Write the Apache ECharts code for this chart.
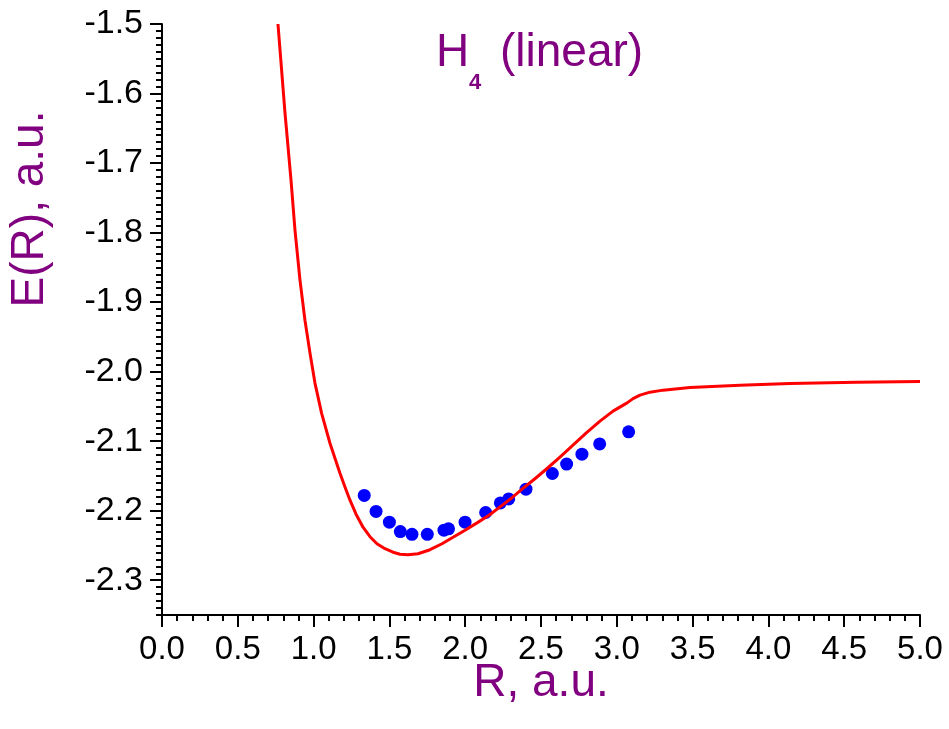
<!DOCTYPE html>
<html>
<head>
<meta charset="utf-8">
<script src="https://cdn.jsdelivr.net/npm/echarts@6/dist/echarts.min.js"></script>
<style>
  html, body { margin: 0; padding: 0; background: #fff; }
  #chart { width: 949px; height: 729px; }
</style>
</head>
<body>
<div id="chart"></div>
<script>
// Potential energy curve of linear H4: computed curve (red) and points (blue)
const curveR = [0.765, 0.811, 0.851, 0.877, 0.910, 0.943, 0.976, 1.009, 1.053, 1.108, 1.174, 1.207, 1.240, 1.280, 1.326, 1.372, 1.418, 1.471, 1.524, 1.570, 1.623, 1.689, 1.768, 1.847, 1.920, 1.999, 2.078, 2.157, 2.230, 2.309, 2.381, 2.460, 2.540, 2.625, 2.711, 2.797, 2.889, 2.975, 3.068, 3.107, 3.153, 3.219, 3.305, 3.483, 3.813, 4.142, 4.582, 5.0];
const curveE = [-1.500, -1.627, -1.7245, -1.796, -1.868, -1.926, -1.973, -2.0165, -2.060, -2.103, -2.146, -2.166, -2.1849, -2.205, -2.2237, -2.2374, -2.2475, -2.2547, -2.2597, -2.2626, -2.2633, -2.2619, -2.2561, -2.2475, -2.2381, -2.2281, -2.2175, -2.2065, -2.1945, -2.1813, -2.168, -2.154, -2.1393, -2.123, -2.1058, -2.0885, -2.0712, -2.0568, -2.0449, -2.0388, -2.0338, -2.0295, -2.0266, -2.0228, -2.0194, -2.017, -2.0151, -2.0141];

const dotR = [1.334, 1.412, 1.50, 1.572, 1.649, 1.750, 1.86, 1.89, 1.999, 2.135, 2.232, 2.287, 2.401, 2.575, 2.669, 2.770, 2.887, 3.078];
const dotE = [-2.178, -2.201, -2.2165, -2.230, -2.234, -2.234, -2.228, -2.226, -2.2165, -2.2026, -2.1888, -2.183, -2.169, -2.1465, -2.133, -2.1187, -2.104, -2.0866];

const yTicks = [-2.3, -2.2, -2.1, -2.0, -1.9, -1.8, -1.7, -1.6, -1.5];

const FONT = '"Liberation Sans", Arial, sans-serif';
const PURPLE = '#800080';

const chart = echarts.init(document.getElementById('chart'), null, { renderer: 'canvas' });

const zip = (a, b) => a.map((v, i) => [v, b[i]]);

chart.setOption({
  animation: false,
  backgroundColor: '#fff',
  grid: { left: 162, right: 29, top: 24, bottom: 114, containLabel: false },
  xAxis: {
    type: 'value',
    min: 0, max: 5, interval: 0.5,
    axisLine: { show: true, onZero: false, lineStyle: { color: '#000', width: 2 } },
    axisTick: { show: true, length: 12, lineStyle: { color: '#000', width: 2 } },
    minorTick: { show: true, splitNumber: 5, length: 6, lineStyle: { color: '#000', width: 2 } },
    splitLine: { show: false },
    axisLabel: {
      color: '#000', fontSize: 33, fontFamily: FONT, margin: 18,
      formatter: v => v.toFixed(1)
    }
  },
  yAxis: [
    {
      type: 'value',
      min: -2.35, max: -1.5,
      position: 'left',
      axisLine: { show: true, onZero: false, lineStyle: { color: '#000', width: 2 } },
      axisTick: { show: true, length: 12, customValues: yTicks, lineStyle: { color: '#000', width: 2 } },
      splitLine: { show: false },
      axisLabel: {
        color: '#000', fontSize: 34, fontFamily: FONT, margin: 19,
        customValues: yTicks,
        formatter: v => v.toFixed(1)
      }
    },
    {
      // minor ticks every 0.01 on the left axis
      type: 'value',
      min: -2.35, max: -1.5, interval: 0.01,
      position: 'left',
      axisLine: { show: false },
      axisTick: { show: true, length: 6, lineStyle: { color: '#000', width: 2 } },
      axisLabel: { show: false },
      splitLine: { show: false }
    }
  ],
  series: [
    {
      type: 'scatter',
      yAxisIndex: 0,
      data: zip(dotR, dotE),
      symbol: 'circle',
      symbolSize: 13,
      itemStyle: { color: '#0000ff', opacity: 1 },
      z: 2
    },
    {
      type: 'line',
      yAxisIndex: 0,
      data: zip(curveR, curveE),
      smooth: false,
      showSymbol: false,
      clip: true,
      lineStyle: { color: '#ff0000', width: 3, join: 'round' },
      z: 3
    }
  ],
  graphic: [
    {
      type: 'text', x: 30, y: 209, rotation: Math.PI / 2,
      style: { text: 'E(R), a.u.', font: '46px ' + FONT, fill: PURPLE, align: 'center', verticalAlign: 'middle' }
    },
    {
      type: 'text', x: 541, y: 683,
      style: { text: 'R, a.u.', font: '46px ' + FONT, fill: PURPLE, align: 'center', verticalAlign: 'middle' }
    },
    {
      type: 'text', x: 436, y: 53,
      style: { text: 'H', font: '46px ' + FONT, fill: PURPLE, align: 'left', verticalAlign: 'middle' }
    },
    {
      type: 'text', x: 469, y: 83,
      style: { text: '4', font: 'bold 22px ' + FONT, fill: PURPLE, align: 'left', verticalAlign: 'middle' }
    },
    {
      type: 'text', x: 500, y: 53,
      style: { text: '(linear)', font: '46px ' + FONT, fill: PURPLE, align: 'left', verticalAlign: 'middle' }
    }
  ]
});
</script>
</body>
</html>
